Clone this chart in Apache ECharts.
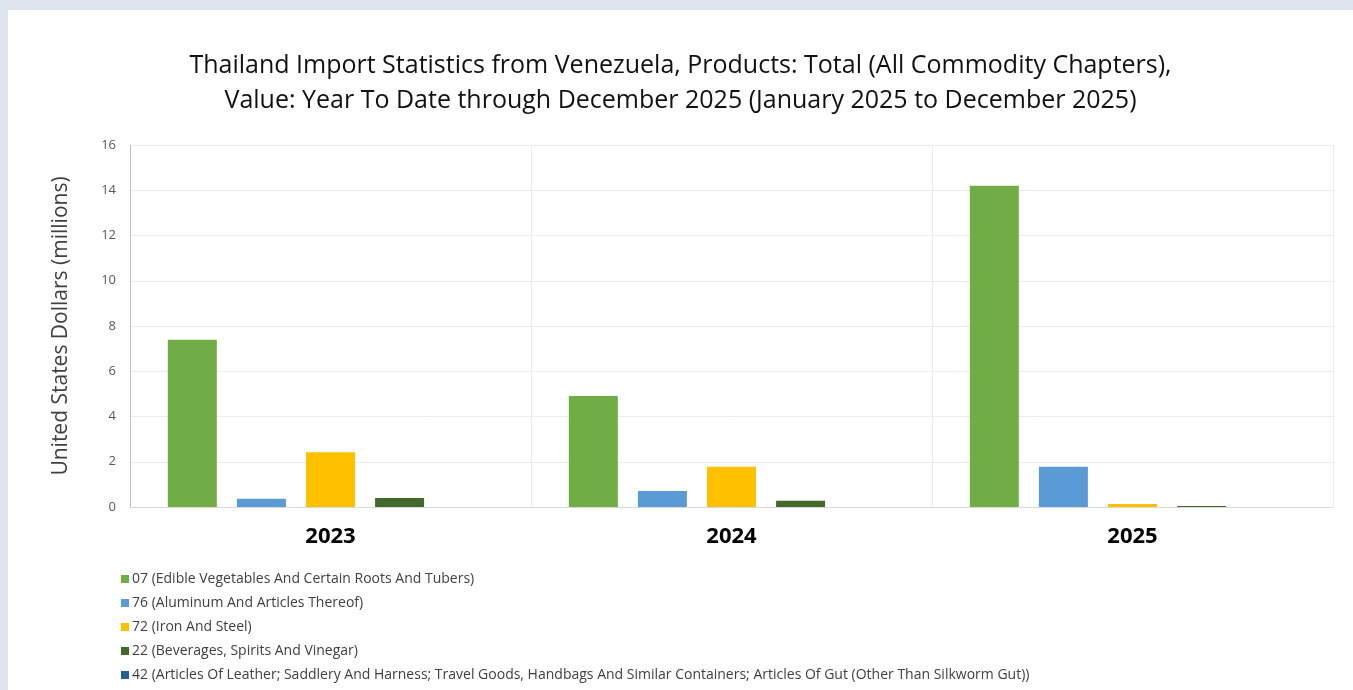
<!DOCTYPE html>
<html><head><meta charset="utf-8">
<script src="https://cdn.jsdelivr.net/npm/echarts@6/dist/echarts.min.js"></script>
<style>
html,body{margin:0;padding:0;background:#dfe5ee;width:1353px;height:690px;overflow:hidden}
#panel{position:absolute;left:8px;top:10px;width:1345px;height:680px;background:#fff}
#c{position:absolute;left:0;top:0;width:1345px;height:680px}
</style></head><body>
<div id="panel"><div id="c"></div></div>
<script>
const categories = ['2023', '2024', '2025'];
const seriesNames = [
  '07 (Edible Vegetables And Certain Roots And Tubers)',
  '76 (Aluminum And Articles Thereof)',
  '72 (Iron And Steel)',
  '22 (Beverages, Spirits And Vinegar)',
  '42 (Articles Of Leather; Saddlery And Harness; Travel Goods, Handbags And Similar Containers; Articles Of Gut (Other Than Silkworm Gut))'
];
const s07 = [7.39, 4.91, 14.2];
const s76 = [0.37, 0.71, 1.78];
const s72 = [2.42, 1.78, 0.13];
const s22 = [0.40, 0.28, 0.04];
const s42 = [0, 0, 0];
const yTicks = [0, 2, 4, 6, 8, 10, 12, 14, 16];
const colors = ['#70ad47', '#5b9bd5', '#ffc000', '#43682b', '#255e91'];
const values = [s07, s76, s72, s22, s42];

const chart = echarts.init(document.getElementById('c'));
const FONT = "'Open Sans', 'Noto Sans', sans-serif";
chart.setOption({
  animation: false,
  textStyle: { fontFamily: FONT },
  title: {
    text: 'Thailand Import Statistics from Venezuela, Products: Total (All Commodity Chapters),\nValue: Year To Date through December 2025 (January 2025 to December 2025)',
    left: 'center', top: 33,
    textStyle: { fontFamily: FONT, fontSize: 25, fontWeight: 'normal', color: '#111', lineHeight: 35 }
  },
  legend: {
    orient: 'vertical', left: 108, top: 557, itemGap: 10,
    itemWidth: 8, itemHeight: 8, icon: 'rect',
    textStyle: { fontFamily: FONT, fontSize: 14, color: '#404040', padding: [0, 0, 0, -2] },
    data: seriesNames
  },
  grid: { left: 122, right: 20, top: 135, bottom: 183, containLabel: false },
  xAxis: {
    type: 'category', data: categories,
    axisLine: { show: true, lineStyle: { color: '#d9d9d9' } },
    axisTick: { show: false },
    splitLine: { show: true, lineStyle: { color: '#ececec' } },
    axisLabel: { fontFamily: FONT, fontSize: 22, fontWeight: 'bold', color: '#000', margin: 19 }
  },
  yAxis: {
    type: 'value', min: 0, max: 16, interval: 2,
    name: 'United States Dollars (millions)', nameLocation: 'middle', nameGap: 58,
    nameTextStyle: { fontFamily: FONT, fontSize: 21, color: '#404040' },
    axisLine: { show: true, lineStyle: { color: '#bfbfbf' } },
    axisTick: { show: false },
    splitLine: { lineStyle: { color: '#ececec' } },
    axisLabel: { fontFamily: FONT, fontSize: 13, color: '#595959', margin: 14,
      formatter: v => yTicks.includes(v) ? String(v) : '' }
  },
  series: seriesNames.map((n, i) => ({
    name: n, type: 'bar', data: values[i], barWidth: 49, barGap: '41%',
    itemStyle: { color: colors[i] }
  }))
});
</script>
</body></html>
